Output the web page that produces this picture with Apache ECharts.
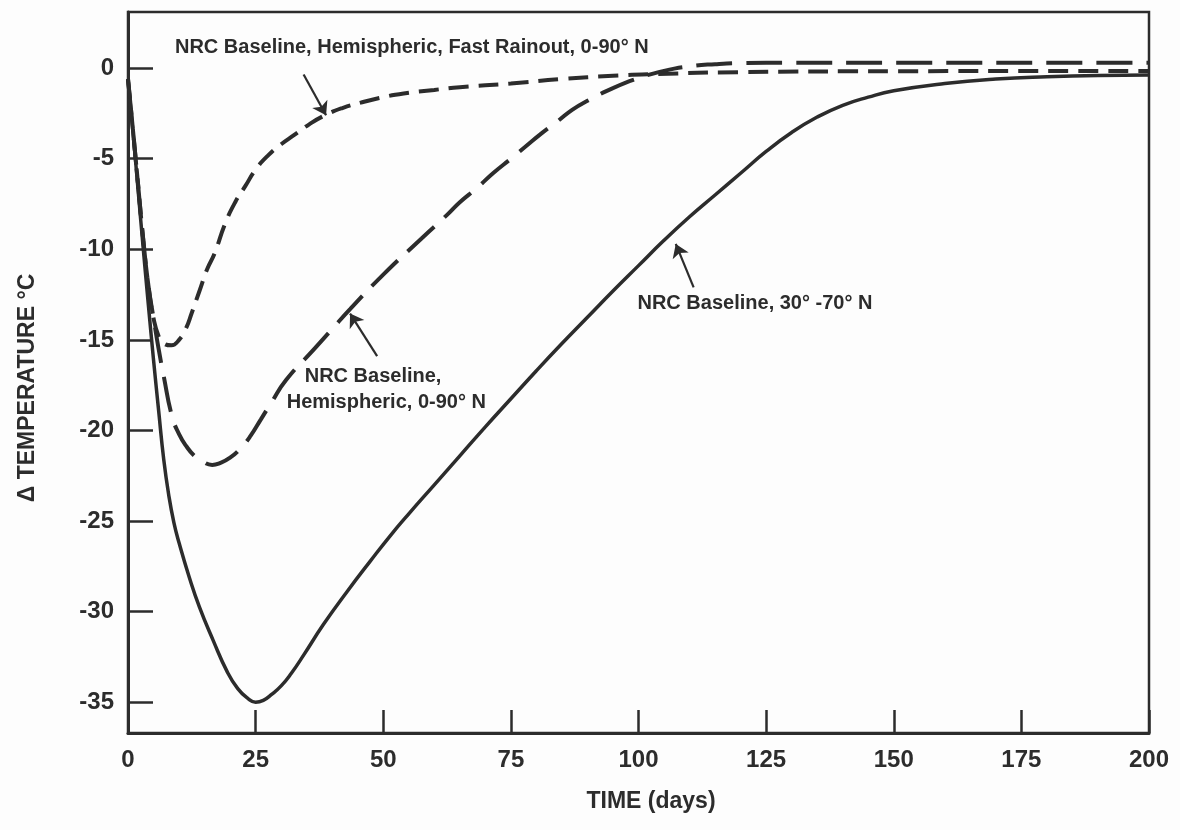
<!DOCTYPE html>
<html>
<head>
<meta charset="utf-8">
<script src="https://cdn.jsdelivr.net/npm/echarts@6/dist/echarts.min.js"></script>
<style>
html,body{margin:0;padding:0;background:#fdfdfd;}
#chart{width:1180px;height:830px;}
</style>
</head>
<body>
<div id="chart"></div>
<script>
// ---- data ----
const xTicks = [0, 25, 50, 75, 100, 125, 150, 175, 200];
const yTicks = [0, -5, -10, -15, -20, -25, -30, -35];

const seriesNames = [
  'NRC Baseline, 30°-70° N',
  'NRC Baseline, Hemispheric, 0-90° N',
  'NRC Baseline, Hemispheric, Fast Rainout, 0-90° N'
];

const solidDays  = [0,1,2,3,4,5,6,7,8,9,10,12,14,16.7,19.4,21.5,23.5,25,26.5,28,30,32,34.4,38.3,42.9,47.5,51.4,55,60,65,70,75,80,85,90,95,100,105,110,115,120,125,130,135,140,145,150,160,170,180,190,200];
const solidTemps = [-0.6,-3.6,-6.8,-10,-13.1,-16.1,-18.9,-21.6,-23.6,-25.1,-26.2,-28.1,-29.75,-31.6,-33.3,-34.25,-34.8,-35.0,-34.9,-34.6,-34.1,-33.4,-32.4,-30.7,-28.9,-27.2,-25.8,-24.6,-23.0,-21.4,-19.8,-18.25,-16.7,-15.2,-13.75,-12.3,-10.9,-9.5,-8.2,-7.0,-5.8,-4.6,-3.55,-2.7,-2.05,-1.6,-1.25,-0.85,-0.6,-0.47,-0.4,-0.38];

const hemiDays  = [0,1,2,3,4,5,6,7,8.6,10,11.5,13,14.5,16.5,18,20,22,24,26,28,31,36.5,40,43.5,50,57.5,62.5,65,68.4,71.5,75,78,81,84.3,87,90,95,100,105,110,115,120,130,150,200];
const hemiTemps = [-0.6,-3.5,-6.5,-9.5,-12,-13.8,-15.5,-17,-19.2,-20.2,-20.9,-21.4,-21.7,-21.9,-21.8,-21.5,-21,-20.3,-19.4,-18.5,-17.2,-15.5,-14.4,-13.3,-11.4,-9.4,-8.1,-7.4,-6.6,-5.8,-5.0,-4.3,-3.6,-2.9,-2.3,-1.8,-1.1,-0.55,-0.15,0.1,0.22,0.28,0.3,0.3,0.3];

const fastDays  = [0,1,2,3,4,5,6,7,8.5,10,11.3,12.5,14,15.5,17,19,21,23,25,27.5,30,32.5,35.5,38.6,42,45.6,50,54,60,65,75,85,95,103,120,150,200];
const fastTemps = [-0.6,-3.5,-6.5,-9.5,-12,-13.8,-14.8,-15.2,-15.3,-15,-14.4,-13.5,-12.3,-11.1,-10.2,-8.6,-7.4,-6.5,-5.6,-4.8,-4.2,-3.7,-3.1,-2.6,-2.2,-1.9,-1.6,-1.4,-1.2,-1.05,-0.85,-0.6,-0.42,-0.33,-0.22,-0.17,-0.15];

// annotation texts (anchors in data space) and arrows (tail -> tip, data space)
const noteTexts = [
  'NRC Baseline, Hemispheric, Fast Rainout, 0-90° N',
  'NRC Baseline,',
  'Hemispheric, 0-90° N',
  'NRC Baseline, 30° -70° N'
];
const noteAnchors = [[9.2, 1.15], [48.0, -17.0], [50.6, -18.47], [99.8, -13.0]];
const noteAligns = ['left', 'center', 'center', 'left'];
const arrowTails = [[34.4, -0.35], [48.8, -15.9], [110.8, -12.1]];
const arrowTips  = [[38.8, -2.6], [43.5, -13.55], [107.3, -9.7]];

const xTitle = 'TIME (days)';
const yTitle = 'Δ TEMPERATURE °C';

// ---- chart ----
const INK = '#2c2c2c';
const FONT = 'Liberation Sans, Arial, sans-serif';
const zip = (a, b) => a.map((v, i) => [v, b[i]]);

const chart = echarts.init(document.getElementById('chart'), null, {renderer: 'canvas'});

const lineBase = {
  type: 'line', showSymbol: false, symbol: 'none', smooth: 0.5,
  animation: false, z: 3
};

chart.setOption({
  backgroundColor: '#fdfdfd',
  animation: false,
  grid: {left: 128, right: 31, top: 12, bottom: 97, show: true, borderColor: INK, borderWidth: 2.5, backgroundColor: 'transparent'},
  xAxis: {
    type: 'value', min: 0, max: 200, interval: 25,
    axisLine: {show: true, onZero: false, lineStyle: {color: INK, width: 3}},
    axisTick: {show: true, inside: true, length: 23, lineStyle: {color: INK, width: 2.5}},
    axisLabel: {fontFamily: FONT, fontSize: 24, fontWeight: 'bold', color: INK, margin: 15,
      customValues: xTicks},
    splitLine: {show: false}
  },
  yAxis: {
    type: 'value', min: -36.7, max: 3.1,
    axisLine: {show: true, onZero: false, lineStyle: {color: INK, width: 3}},
    axisTick: {show: true, inside: true, length: 25, lineStyle: {color: INK, width: 2.5}, customValues: yTicks},
    axisLabel: {fontFamily: FONT, fontSize: 24, fontWeight: 'bold', color: INK, margin: 14, customValues: yTicks},
    splitLine: {show: false}
  },
  graphic: [{
    type: 'text', x: 28, y: 388, rotation: Math.PI / 2,
    style: {text: yTitle, fontFamily: FONT, fontSize: 23, fontWeight: 'bold', fill: INK,
      align: 'center', verticalAlign: 'middle'}
  }, {
    type: 'text', x: 651, y: 802,
    style: {text: xTitle, fontFamily: FONT, fontSize: 23, fontWeight: 'bold', fill: INK,
      align: 'center', verticalAlign: 'middle'}
  }],
  series: [
    Object.assign({}, lineBase, {
      name: seriesNames[0], data: zip(solidDays, solidTemps),
      lineStyle: {color: INK, width: 3.5}
    }),
    Object.assign({}, lineBase, {
      name: seriesNames[1], data: zip(hemiDays, hemiTemps),
      lineStyle: {color: INK, width: 4, type: [36, 14]}
    }),
    Object.assign({}, lineBase, {
      name: seriesNames[2], data: zip(fastDays, fastTemps),
      lineStyle: {color: INK, width: 4, type: [20, 10]}
    }),
    {
      type: 'line', name: 'notes', data: [], animation: false, silent: true,
      markLine: {
        silent: true, animation: false,
        symbol: ['none', 'arrow'], symbolSize: 13,
        lineStyle: {color: INK, width: 2.2, type: 'solid'},
        label: {show: false},
        data: arrowTails.map((t, i) => [{coord: t}, {coord: arrowTips[i]}])
      },
      markPoint: {
        silent: true, animation: false, symbol: 'circle', symbolSize: 0,
        itemStyle: {color: 'transparent'},
        data: noteAnchors.map((c, i) => ({
          coord: c,
          label: {show: true, position: 'inside', formatter: noteTexts[i], align: noteAligns[i],
            verticalAlign: 'middle', fontFamily: FONT, fontSize: 20, fontWeight: 'bold', color: INK}
        }))
      }
    }
  ]
});
</script>
</body>
</html>
